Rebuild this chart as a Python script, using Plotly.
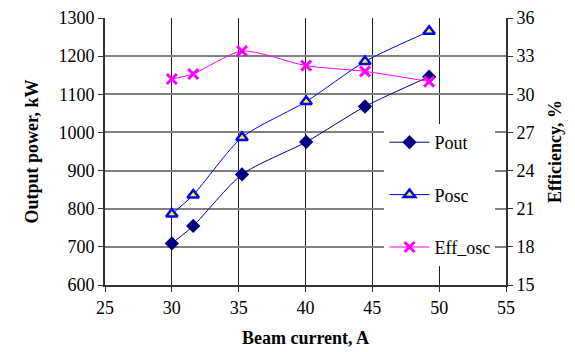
import plotly.graph_objects as go

beam_current = [30.0, 31.6, 35.25, 40.05, 44.45, 49.25]
pout = [709, 755, 890, 975, 1068, 1146]
posc = [786, 836, 987, 1081, 1186, 1265]
eff_osc = [31.2, 31.6, 33.4, 32.25, 31.8, 31.0]

x_ticks = [25, 30, 35, 40, 45, 50, 55]
y_ticks = [600, 700, 800, 900, 1000, 1100, 1200, 1300]
y2_ticks = [15, 18, 21, 24, 27, 30, 33, 36]

FONT = "Liberation Serif, Times New Roman, serif"
TF = dict(family=FONT, size=18, color="black")

fig = go.Figure()
fig.add_trace(go.Scatter(
    x=beam_current, y=pout, name="Pout", mode="lines+markers",
    line=dict(color="#000080", width=1, shape="spline", smoothing=0.7),
    marker=dict(symbol="diamond", size=11, color="#000080"),
    legendgroup="a"))
fig.add_trace(go.Scatter(
    x=beam_current, y=posc, name="Posc", mode="lines+markers",
    line=dict(color="#0000FF", width=1, shape="spline", smoothing=0.7),
    marker=dict(symbol="triangle-up", size=10, color="#FFFF00",
                line=dict(color="#0000FF", width=2.5)),
    legendgroup="b"))
fig.add_trace(go.Scatter(
    x=beam_current, y=eff_osc, name="Eff_osc", mode="lines+markers",
    yaxis="y2",
    line=dict(color="#FF00FF", width=1, shape="spline", smoothing=0.7),
    marker=dict(symbol="x-thin", size=10, color="#FF00FF",
                line=dict(color="#FF00FF", width=3)),
    legendgroup="c"))

fig.update_layout(
    width=567, height=344,
    margin=dict(l=97, r=69, t=10, b=67),
    paper_bgcolor="white", plot_bgcolor="white",
    font=TF,
    showlegend=True,
    legend=dict(x=0.697, y=0.603, xanchor="left", yanchor="top",
                bgcolor="white", borderwidth=0,
                font=TF, tracegroupgap=26, itemwidth=40),
    xaxis=dict(range=[25, 55], tickvals=x_ticks, ticks="outside", ticklen=5,
               tickcolor="#333", showgrid=True, gridcolor="#222", gridwidth=1,
               zeroline=False, showline=True, linecolor="#333", linewidth=2,
               tickfont=TF, automargin=False,
               title=dict(text="<b>Beam current, A</b>", font=TF)),
    yaxis=dict(range=[600, 1300], tickvals=y_ticks, ticks="outside", ticklen=5,
               tickcolor="#333", showgrid=True, gridcolor="#808080", gridwidth=1.5,
               zeroline=False, showline=True, linecolor="#333", linewidth=2,
               tickfont=TF, automargin=False,
               title=dict(text="<b>Output power, kW</b>", font=TF)),
    yaxis2=dict(range=[15, 36], tickvals=y2_ticks, overlaying="y", side="right",
                ticks="outside", ticklen=5, tickcolor="#333", showgrid=False,
                zeroline=False, showline=True, linecolor="#333", linewidth=2,
                tickfont=TF, automargin=False,
                title=dict(text="<b>Efficiency, %</b>", font=TF)),
)

fig.write_html("out.html")
